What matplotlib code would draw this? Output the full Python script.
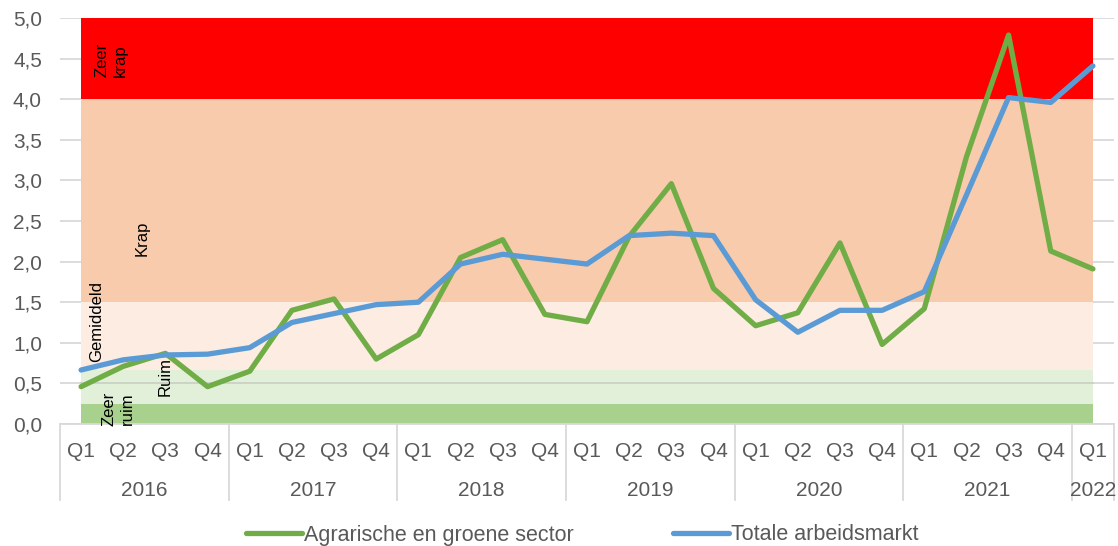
from matplotlib import pyplot as plt
from matplotlib import transforms
import numpy as np

plt.rcParams['font.family'] = ['Liberation Sans', 'DejaVu Sans']

quarters = ['Q1', 'Q2', 'Q3', 'Q4'] * 6 + ['Q1']
years = ['2016', '2017', '2018', '2019', '2020', '2021', '2022']
agrarisch = [0.46, 0.71, 0.87, 0.46, 0.65, 1.40, 1.54, 0.80, 1.10, 2.05, 2.27, 1.35,
             1.26, 2.31, 2.96, 1.67, 1.21, 1.37, 2.23, 0.98, 1.42, 3.29, 4.79, 2.13, 1.91]
totaal = [0.665, 0.79, 0.85, 0.86, 0.94, 1.25, 1.36, 1.47, 1.50, 1.97, 2.09, 2.03,
          1.97, 2.32, 2.35, 2.32, 1.53, 1.13, 1.40, 1.40, 1.63, 2.82, 4.02, 3.96, 4.41]

# spanning bands (bottom, top, colour, label)
band_edges = [0, 0.25, 0.67, 1.5, 4.0, 5.0]
band_colors = ['#a9d18e', '#e2f0d9', '#fcece2', '#f8cbad', '#ff0000']
band_labels = ['Zeer\nruim', 'Ruim', 'Gemiddeld', 'Krap', 'Zeer\nkrap']
label_pos = [(0.88, 0.19), (1.99, 0.58), (0.36, 1.26), (1.45, 2.29), (0.71, 4.48)]

fig = plt.figure(figsize=(11.18, 5.46), dpi=100)
ax = fig.add_axes([60/1118, 1-424/546, (1114-60)/1118, (424-18)/546])

x = np.arange(len(quarters))
for i in range(len(band_colors)):
    ax.fill_between(x, band_edges[i], band_edges[i+1], color=band_colors[i], lw=0, zorder=1)
for lab, (lx, ly) in zip(band_labels, label_pos):
    ax.text(lx, ly, lab, rotation=90, ha='center', va='center', fontsize=12,
            color='black', zorder=3, linespacing=1.25)

# gridline that shows through the light green band
ax.plot([x[0], x[-1]], [0.5, 0.5], color='#c8cfc4', lw=1.2, zorder=2)

ax.plot(x, agrarisch, color='#70ad47', lw=3.8, label='Agrarische en groene sector',
        zorder=4, solid_capstyle='round')
ax.plot(x, totaal, color='#5b9bd5', lw=3.8, label='Totale arbeidsmarkt',
        zorder=5, solid_capstyle='round')

ax.set_xlim(-0.5, len(quarters) - 0.5)
ax.set_ylim(0, 5)
ax.set_yticks(np.arange(0, 5.01, 0.5))
ax.set_yticklabels([('%.1f' % v).replace('.', ',') for v in np.arange(0, 5.01, 0.5)])
ax.yaxis.grid(True, color='#d9d9d9', lw=1.3)
ax.set_axisbelow(True)
ax.set_xticks(x)
ax.set_xticklabels(quarters)
ax.tick_params(axis='both', length=0, labelsize=15, colors='#595959')
ax.tick_params(axis='x', pad=13)
ax.tick_params(axis='y', pad=13)
for s in ['top', 'right', 'left']:
    ax.spines[s].set_visible(False)
ax.spines['bottom'].set_color('#d9d9d9')
ax.spines['bottom'].set_linewidth(1.3)

# year labels and group separators
trans = transforms.blended_transform_factory(ax.transData, ax.transAxes)
px = 1 / 406  # one pixel in axes fraction (height)
bounds = [-0.5, 3.5, 7.5, 11.5, 15.5, 19.5, 23.5, 24.5]
for b in bounds:
    ax.plot([b, b], [0, -76*px], color='#d9d9d9', lw=1.3, transform=trans, clip_on=False)
for i, yr in enumerate(years):
    cx = (bounds[i] + bounds[i+1]) / 2
    ax.text(cx, -66*px, yr, ha='center', va='center', fontsize=15, color='#595959',
            transform=trans)

fig.legend(loc='center', bbox_to_anchor=(0.5205, 1-535/546), ncol=2, frameon=False,
           fontsize=15.5, handlelength=2.6, handletextpad=0.1, columnspacing=4.6,
           labelcolor='#595959')

fig.savefig('out.png', dpi=100)
plt.close(fig)
